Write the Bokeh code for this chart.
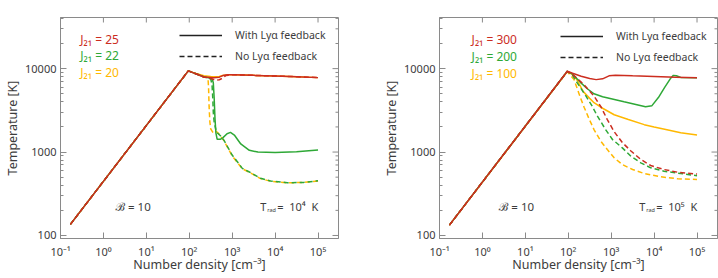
import math
from bokeh.plotting import figure
from bokeh.layouts import row
from bokeh.models import (FixedTicker, CustomJSTickFormatter, Label,
                          Legend, LegendItem, Range1d)
from bokeh.embed import file_html
from bokeh.resources import INLINE

# ---------------- data (number density [cm^-3], temperature [K]) ----------------
# Left panel: T_rad = 1e4 K
l_red_solid_n = [0.17, 95, 158, 219, 372, 501, 603, 794, 1000, 3160, 10000, 31600, 100000]
l_red_solid_T = [136, 9400, 8500, 7950, 7750, 7900, 8250, 8450, 8450, 8300, 8150, 8000, 7800]
l_red_dash_n = [0.17, 95, 158, 219, 316, 400, 501, 603, 708, 1000, 3160, 10000, 31600, 100000]
l_red_dash_T = [136, 9400, 8500, 7950, 7600, 7300, 7350, 7700, 8250, 8450, 8300, 8150, 8000, 7800]
l_grn_solid_n = [0.17, 95, 158, 219, 282, 339, 363, 380, 398, 417, 447, 525, 603, 759, 912,
                 1122, 1585, 2512, 3980, 10000, 31600, 100000]
l_grn_solid_T = [136, 9400, 8500, 7950, 7750, 7500, 6800, 4500, 2500, 1700, 1420, 1420, 1480,
                 1660, 1720, 1600, 1250, 1050, 1000, 990, 1010, 1060]
l_grn_dash_n = [0.17, 95, 158, 219, 282, 316, 339, 355, 363, 380, 417, 450, 525, 641, 1000,
                1320, 1720, 2450, 4590, 7850, 19200, 46900, 100000]
l_grn_dash_T = [136, 9400, 8500, 7950, 7750, 7500, 6500, 4200, 3000, 2300, 1850, 1700, 1580,
                1390, 920, 766, 638, 581, 484, 450, 429, 433, 452]
l_yel_solid_n = [0.17, 95, 158, 219, 316, 400, 501, 603, 794, 1000, 3160, 10000, 31600, 100000]
l_yel_solid_T = [136, 9400, 8600, 8200, 8050, 8000, 8050, 8250, 8450, 8450, 8300, 8150, 8000, 7800]
l_yel_dash_n = [0.17, 95, 158, 219, 251, 275, 282, 290, 302, 316, 355, 417, 490, 550, 641,
                1000, 1320, 1720, 2450, 4590, 7850, 19200, 46900, 100000]
l_yel_dash_T = [136, 9400, 8550, 8050, 7800, 7300, 5800, 3500, 2300, 1900, 1720, 1780, 1650,
                1520, 1370, 900, 750, 630, 575, 480, 447, 428, 432, 450]

# Right panel: T_rad = 1e5 K
r_red_solid_n = [0.17, 95, 126, 200, 316, 447, 631, 891, 1260, 3160, 10000, 31600, 100000]
r_red_solid_T = [133, 9290, 8800, 8100, 7600, 7380, 7550, 8200, 8350, 8200, 8050, 7900, 7750]
r_red_dash_n = [0.17, 95, 141, 234, 398, 575, 813, 1175, 1820, 2884, 4898, 8318, 16982, 35481, 100000]
r_red_dash_T = [133, 9290, 8100, 6400, 4700, 3500, 2450, 1750, 1300, 1030, 815, 690, 617, 573, 545]
r_grn_solid_n = [0.17, 95, 126, 158, 200, 282, 398, 631, 1000, 1995, 3981, 6310, 8913, 12589,
                 17783, 23988, 28184, 33113, 41687, 100000]
r_grn_solid_T = [133, 9290, 8600, 7600, 6700, 5700, 5000, 4600, 4350, 4000, 3700, 3500, 3600,
                 4500, 6000, 7600, 8300, 8200, 7850, 7750]
r_grn_dash_n = [0.17, 95, 126, 162, 251, 355, 479, 741, 1072, 1820, 2884, 4898, 8318, 16982,
                41687, 100000]
r_grn_dash_T = [133, 9290, 8300, 6740, 4800, 3600, 2690, 1860, 1413, 1122, 891, 743, 647, 589,
                553, 520]
r_yel_solid_n = [0.17, 95, 126, 158, 224, 316, 398, 631, 1175, 2512, 5888, 10000, 19953, 41687, 100000]
r_yel_solid_T = [133, 9200, 8500, 7400, 5300, 4400, 3900, 3350, 2800, 2450, 2130, 2000, 1850, 1700, 1600]
r_yel_dash_n = [0.17, 95, 136, 195, 234, 305, 398, 575, 813, 1175, 1820, 3162, 5888, 14454,
                35481, 100000]
r_yel_dash_T = [133, 9200, 7400, 4400, 3450, 2500, 1860, 1345, 1072, 853, 708, 617, 553, 505,
                478, 469]

left_J = ["25", "22", "20"]
right_J = ["300", "200", "100"]
x_ticks = [0.1, 1, 10, 100, 1000, 10000, 100000]
y_ticks = [100, 1000, 10000]
y_minor = [200, 300, 400, 500, 600, 700, 800, 900,
           2000, 3000, 4000, 5000, 6000, 7000, 8000, 9000,
           20000, 30000, 40000]
X_LO, X_HI = 0.1, 3.0e5
Y_LO, Y_HI = 92, 41000

RED = "#cc2d1f"
GREEN = "#2ea836"
YELLOW = "#ffb800"
TXT = "#3c3c3c"
FRAME = "#8a8a8a"
FONT = "Noto Sans"
NAN = float("nan")
NB = "\u00a0"

SUP = """
const sup = {'-':'\u207b','0':'\u2070','1':'\u00b9','2':'\u00b2','3':'\u00b3','4':'\u2074',
             '5':'\u2075','6':'\u2076','7':'\u2077','8':'\u2078','9':'\u2079'};
const e = Math.round(Math.log10(tick));
return '10' + String(e).split('').map(c => sup[c]).join('');
"""
PLAIN = "return Math.round(tick).toString();"


def style_axis(ax, ticker, code):
    ax.ticker = ticker
    ax.formatter = CustomJSTickFormatter(code=code)
    ax.axis_line_color = FRAME
    ax.major_tick_line_color = FRAME
    ax.minor_tick_line_color = FRAME
    ax.major_tick_in = 6
    ax.major_tick_out = 0
    ax.minor_tick_in = 3
    ax.minor_tick_out = 0
    ax.major_label_text_font = FONT
    ax.major_label_text_font_size = "11px"
    ax.major_label_text_color = TXT
    ax.axis_label_text_font = FONT
    ax.axis_label_text_font_size = "12.5px"
    ax.axis_label_text_font_style = "normal"
    ax.axis_label_text_color = TXT


def make_panel(width, bl, br, series, jvals, jx, jy, b_x, t_x, trad_exp, leg_loc):
    p = figure(width=width, height=278, x_axis_type="log", y_axis_type="log",
               x_range=Range1d(X_LO, X_HI), y_range=Range1d(Y_LO, Y_HI),
               output_backend="svg", toolbar_location=None,
               min_border_left=bl, min_border_right=br, min_border_top=17,
               min_border_bottom=40)
    p.xgrid.visible = False
    p.ygrid.visible = False
    p.outline_line_color = FRAME
    p.background_fill_color = "white"
    p.border_fill_color = "white"

    style_axis(p.xaxis[0], FixedTicker(ticks=x_ticks, minor_ticks=[]), SUP)
    style_axis(p.yaxis[0], FixedTicker(ticks=y_ticks, minor_ticks=y_minor), PLAIN)
    p.xaxis[0].axis_label = "Number density [cm\u207b\u00b3]"
    p.yaxis[0].axis_label = "Temperature [K]"
    p.xaxis[0].major_label_standoff = 5
    p.yaxis[0].major_label_standoff = 4
    p.xaxis[0].axis_label_standoff = -6
    p.yaxis[0].axis_label_standoff = 1

    # mirrored tick marks on the top and right edges of the frame
    p.ray(x=x_ticks, y=[Y_HI] * len(x_ticks), length=5, length_units="screen",
          angle=-math.pi / 2, line_color=FRAME, line_width=1)
    p.ray(x=[X_HI] * len(y_ticks), y=y_ticks, length=6, length_units="screen",
          angle=math.pi, line_color=FRAME, line_width=1)
    p.ray(x=[X_HI] * len(y_minor), y=y_minor, length=3, length_units="screen",
          angle=math.pi, line_color=FRAME, line_width=1)

    for n, T, color, dash in series:
        p.line(n, T, line_color=color, line_width=1.5, line_dash=dash)

    r1 = p.line([NAN], [NAN], line_color="#222222", line_width=1.5)
    r2 = p.line([NAN], [NAN], line_color="#222222", line_width=1.5, line_dash="5 3")
    leg = Legend(items=[LegendItem(label="With Ly\u03b1 feedback", renderers=[r1]),
                        LegendItem(label="No Ly\u03b1 feedback", renderers=[r2])],
                 location=leg_loc, padding=0, margin=0, spacing=1,
                 glyph_width=43, glyph_height=20, label_height=20, label_standoff=13,
                 border_line_alpha=0, background_fill_alpha=0,
                 label_text_font=FONT, label_text_font_size="10.5px",
                 label_text_color=TXT)
    p.add_layout(leg)

    for val, yv, color in zip(jvals, jy, [RED, GREEN, YELLOW]):
        p.add_layout(Label(x=jx, y=yv, text="J\u2082\u2081" + NB + "=" + NB + val,
                           text_font=FONT, text_font_size="12px", text_color=color,
                           text_baseline="middle"))

    p.add_layout(Label(x=b_x, y=224, text="\u212c" + NB + "=" + NB + "10", text_font=FONT,
                       text_font_size="11.5px", text_color=TXT, text_baseline="middle"))
    p.add_layout(Label(x=t_x, y=224, text="T", text_font=FONT, text_font_size="11px",
                       text_color=TXT, text_baseline="middle"))
    p.add_layout(Label(x=t_x, y=224, x_offset=7, y_offset=-4, text="rad", text_font=FONT,
                       text_font_size="5.5px", text_color=TXT, text_baseline="middle"))
    p.add_layout(Label(x=t_x, y=224, x_offset=17,
                       text="=" + NB * 2 + "10" + trad_exp + NB * 2 + "K",
                       text_font=FONT, text_font_size="11px", text_color=TXT,
                       text_baseline="middle"))
    return p


left_series = [
    (l_yel_solid_n, l_yel_solid_T, YELLOW, "solid"),
    (l_yel_dash_n, l_yel_dash_T, YELLOW, "5 3"),
    (l_grn_solid_n, l_grn_solid_T, GREEN, "solid"),
    (l_grn_dash_n, l_grn_dash_T, GREEN, "5 3"),
    (l_red_dash_n, l_red_dash_T, RED, "5 3"),
    (l_red_solid_n, l_red_solid_T, RED, "solid"),
]
right_series = [
    (r_yel_solid_n, r_yel_solid_T, YELLOW, "solid"),
    (r_yel_dash_n, r_yel_dash_T, YELLOW, "5 3"),
    (r_grn_dash_n, r_grn_dash_T, GREEN, "5 3"),
    (r_grn_solid_n, r_grn_solid_T, GREEN, "solid"),
    (r_red_dash_n, r_red_dash_T, RED, "5 3"),
    (r_red_solid_n, r_red_solid_T, RED, "solid"),
]

p1 = make_panel(360, 60, 22, left_series, left_J, 0.29, [22400, 14500, 8900],
                1.9, 4500, "\u2074", (119, 172))
p2 = make_panel(358, 79, 1, right_series, right_J, 0.56, [22200, 13800, 8710],
                2.4, 4500, "\u2075", (121, 171))

layout = row(p1, p2)
open("out.html", "w").write(file_html(layout, INLINE))
